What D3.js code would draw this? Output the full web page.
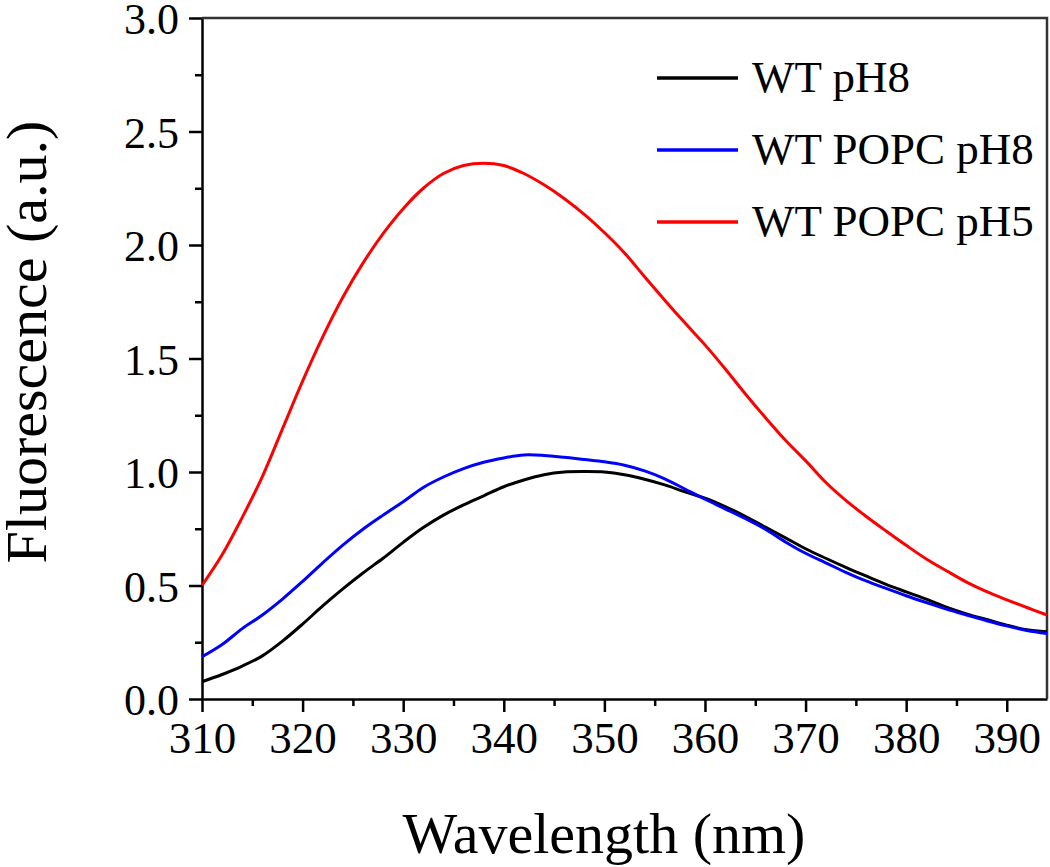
<!DOCTYPE html>
<html>
<head>
<meta charset="utf-8">
<script src="https://cdn.jsdelivr.net/npm/d3@7"></script>
<style>
  body { margin: 0; background: #fff; }
  svg text { font-family: "Liberation Serif", "Times New Roman", serif; fill: #000; }
</style>
</head>
<body>
<svg width="1050" height="867"></svg>
<script>
// wavelength grid (nm), read every 2 nm
const wavelengths = [310,312,314,316,318,320,322,324,326,328,330,332,334,336,338,340,342,344,346,348,350,
  352,354,356,358,360,362,364,366,368,370,372,374,376,378,380,382,384,386,388,390,392,394];

const wtPH8 = [0.076,0.108,0.145,0.19,0.255,0.33,0.41,0.485,0.555,0.62,0.69,0.755,0.81,0.855,0.895,0.935,0.965,0.988,1.0,1.002,1.0,
  0.988,0.968,0.943,0.913,0.885,0.848,0.805,0.757,0.71,0.662,0.62,0.58,0.542,0.505,0.472,0.44,0.405,0.375,0.35,0.325,0.305,0.296];

const wtPopcPH8 = [0.186,0.24,0.31,0.37,0.44,0.518,0.6,0.678,0.748,0.81,0.869,0.932,0.978,1.015,1.043,1.062,1.075,1.073,1.065,1.055,1.045,
  1.03,1.005,0.97,0.925,0.88,0.838,0.795,0.748,0.692,0.642,0.6,0.558,0.52,0.487,0.455,0.425,0.396,0.37,0.345,0.322,0.302,0.289];

const wtPopcPH5 = [0.5,0.635,0.8,0.98,1.19,1.4,1.595,1.77,1.92,2.05,2.16,2.25,2.315,2.35,2.36,2.35,2.315,2.265,2.205,2.135,2.055,
  1.965,1.86,1.757,1.657,1.56,1.455,1.345,1.24,1.14,1.05,0.955,0.875,0.805,0.74,0.677,0.617,0.565,0.515,0.473,0.437,0.403,0.37];

const seriesNames = ["WT pH8", "WT POPC pH8", "WT POPC pH5"];
const seriesColors = ["#000000", "#0000ff", "#ff0000"];

const xTicks = [310,320,330,340,350,360,370,380,390];
const xMinor = [315,325,335,345,355,365,375,385];
const yTicks = [0,0.5,1.0,1.5,2.0,2.5,3.0];
const yMinor = [0.25,0.75,1.25,1.75,2.25,2.75];

const svg = d3.select("svg");
const margin = { top: 18, right: 3, bottom: 168, left: 202 };
const width = +svg.attr("width");
const height = +svg.attr("height");

const x = d3.scaleLinear().domain([310, 394]).range([margin.left, width - margin.right]);
const y = d3.scaleLinear().domain([0, 3]).range([height - margin.bottom, margin.top]);

// minor ticks first, so the major axis line sits on top
svg.append("g")
  .attr("transform", `translate(0,${y(0)})`)
  .call(d3.axisBottom(x).tickValues(xMinor).tickSize(7).tickFormat("").tickSizeOuter(0))
  .call(g => g.select(".domain").remove());

svg.append("g")
  .attr("transform", `translate(${x(310)},0)`)
  .call(d3.axisLeft(y).tickValues(yMinor).tickSize(7).tickFormat("").tickSizeOuter(0))
  .call(g => g.select(".domain").remove());

const xAxis = svg.append("g")
  .attr("transform", `translate(0,${y(0)})`)
  .call(d3.axisBottom(x).tickValues(xTicks).tickSize(13).tickSizeOuter(0).tickPadding(6).tickFormat(d3.format("d")));

const yAxis = svg.append("g")
  .attr("transform", `translate(${x(310)},0)`)
  .call(d3.axisLeft(y).tickValues(yTicks).tickSize(13).tickSizeOuter(0).tickPadding(10).tickFormat(d3.format(".1f")));

xAxis.selectAll("text").style("font-size", "45px").attr("dy", "0.78em");
yAxis.selectAll("text").style("font-size", "44px").attr("dy", "0.36em");
svg.selectAll(".tick line").attr("stroke", "#000").attr("stroke-width", 2.5);
svg.selectAll(".domain").attr("stroke", "#000").attr("stroke-width", 2.5);

// top and right frame
svg.append("path")
  .attr("d", `M${x(310)},${y(3)}H${x(394)}V${y(0)}`)
  .attr("fill", "none")
  .attr("stroke", "#333")
  .attr("stroke-width", 2.5);

// curves
const allSeries = [wtPH8, wtPopcPH8, wtPopcPH5];
const line = d3.line()
  .x((d, i) => x(wavelengths[i]))
  .y(d => y(d))
  .curve(d3.curveCatmullRom.alpha(0.5));

svg.append("g")
  .selectAll("path")
  .data(allSeries)
  .join("path")
  .attr("d", d => line(d))
  .attr("fill", "none")
  .attr("stroke", (d, i) => seriesColors[i])
  .attr("stroke-width", 3);

// legend
const legend = svg.append("g");
seriesNames.forEach((name, i) => {
  const ly = 78 + i * 72;
  legend.append("line")
    .attr("x1", 657).attr("x2", 738)
    .attr("y1", ly).attr("y2", ly)
    .attr("stroke", seriesColors[i])
    .attr("stroke-width", 3.5);
  legend.append("text")
    .attr("x", 752)
    .attr("y", ly + 14)
    .style("font-size", "45px")
    .text(name);
});

// axis titles
svg.append("text")
  .attr("x", 604)
  .attr("y", 853)
  .attr("text-anchor", "middle")
  .style("font-size", "58px")
  .text("Wavelength (nm)");

svg.append("text")
  .attr("transform", "rotate(-90)")
  .attr("x", -342)
  .attr("y", 46)
  .attr("text-anchor", "middle")
  .style("font-size", "58px")
  .text("Fluorescence (a.u.)");
</script>
</body>
</html>
